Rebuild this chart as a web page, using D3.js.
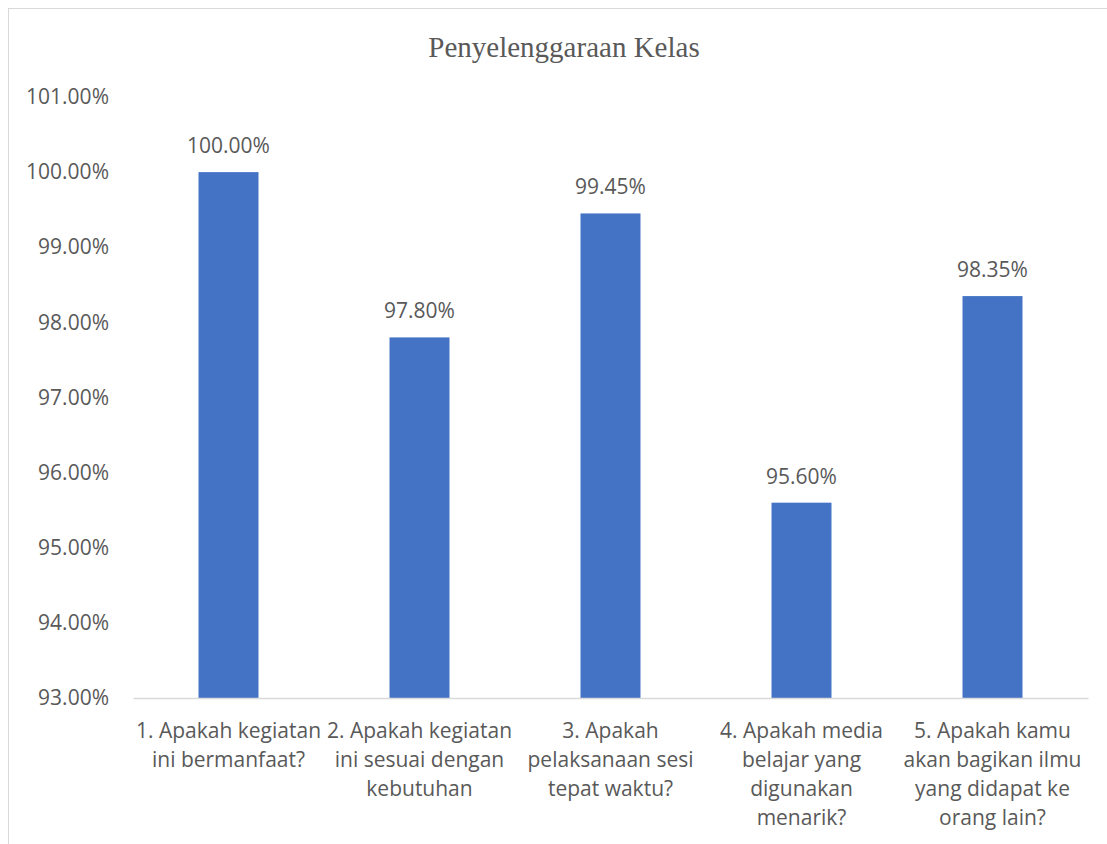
<!DOCTYPE html>
<html><head><meta charset="utf-8">
<script src="https://cdn.jsdelivr.net/npm/d3@7/dist/d3.min.js"></script>
<style>body{margin:0;background:#fff}svg{display:block}</style>
</head><body>
<svg id="c" width="1107" height="844"></svg>
<script>
const title = "Penyelenggaraan Kelas";
const categories = [
  "1. Apakah kegiatan ini bermanfaat?",
  "2. Apakah kegiatan ini sesuai dengan kebutuhan",
  "3. Apakah pelaksanaan sesi tepat waktu?",
  "4. Apakah media belajar yang digunakan menarik?",
  "5. Apakah kamu akan bagikan ilmu yang didapat ke orang lain?"
];
const values = [100.00, 97.80, 99.45, 95.60, 98.35];
const yTicks = [93, 94, 95, 96, 97, 98, 99, 100, 101];

const svg = d3.select("#c");
const W = 1107, H = 844;
const m = {left: 133, right: 19, top: 97, bottom: 146};
const font = "'Open Sans', sans-serif";
const fs = 21;
const txt = "#595959";

// chart border
svg.append("rect").attr("x", 8.5).attr("y", 8.5).attr("width", 1120).attr("height", 860)
  .attr("fill", "#fff").attr("stroke", "#d9d9d9").attr("stroke-width", 1);

svg.append("text").attr("x", 564).attr("y", 57).attr("text-anchor", "middle")
  .attr("font-family", "'Liberation Serif', 'Times New Roman', serif").attr("font-size", 29)
  .attr("fill", txt).text(title);

const x = d3.scaleBand().domain(categories).range([m.left, W - m.right]).padding(0);
const y = d3.scaleLinear().domain([93, 101]).range([H - m.bottom, m.top]);
const barW = x.bandwidth() * 0.314;

const g = svg.append("g");
g.selectAll("rect.bar").data(values).join("rect").attr("class", "bar")
  .attr("x", (d, i) => x(categories[i]) + (x.bandwidth() - barW) / 2)
  .attr("width", barW)
  .attr("y", d => y(d))
  .attr("height", d => y(93) - y(d))
  .attr("fill", "#4472C4");

g.selectAll("text.lbl").data(values).join("text").attr("class", "lbl")
  .attr("x", (d, i) => x(categories[i]) + x.bandwidth() / 2)
  .attr("y", d => y(d) - 19)
  .attr("text-anchor", "middle").attr("font-family", font).attr("font-size", fs)
  .attr("fill", txt).text(d => d.toFixed(2) + "%");

// y axis
const ya = d3.axisLeft(y).tickValues(yTicks).tickFormat(d => d.toFixed(2) + "%").tickSize(0).tickPadding(24);
const yg = svg.append("g").attr("transform", `translate(${m.left},0)`).call(ya);
yg.select(".domain").remove();
yg.selectAll("text").attr("font-family", font).attr("font-size", fs).attr("fill", txt);

// x axis
const xa = d3.axisBottom(x).tickSize(0).tickPadding(0);
const xg = svg.append("g").attr("transform", `translate(0,${H - m.bottom})`).call(xa);
xg.select(".domain").attr("stroke", "#d9d9d9").attr("stroke-width", 1.5);
xg.selectAll("text").remove();
xg.selectAll(".tick").each(function(d) {
  const t = d3.select(this).append("text").attr("text-anchor", "middle")
    .attr("font-family", font).attr("font-size", fs).attr("fill", txt).attr("y", 40);
  const words = d.split(" ");
  const maxW = x.bandwidth() - 3;
  let line = [];
  let ts = t.append("tspan").attr("x", 0).attr("dy", 0);
  for (const w of words) {
    line.push(w);
    ts.text(line.join(" "));
    if (ts.node().getComputedTextLength() > maxW && line.length > 1) {
      line.pop();
      ts.text(line.join(" "));
      line = [w];
      ts = t.append("tspan").attr("x", 0).attr("dy", 29).text(w);
    }
  }
});
</script>
</body></html>
